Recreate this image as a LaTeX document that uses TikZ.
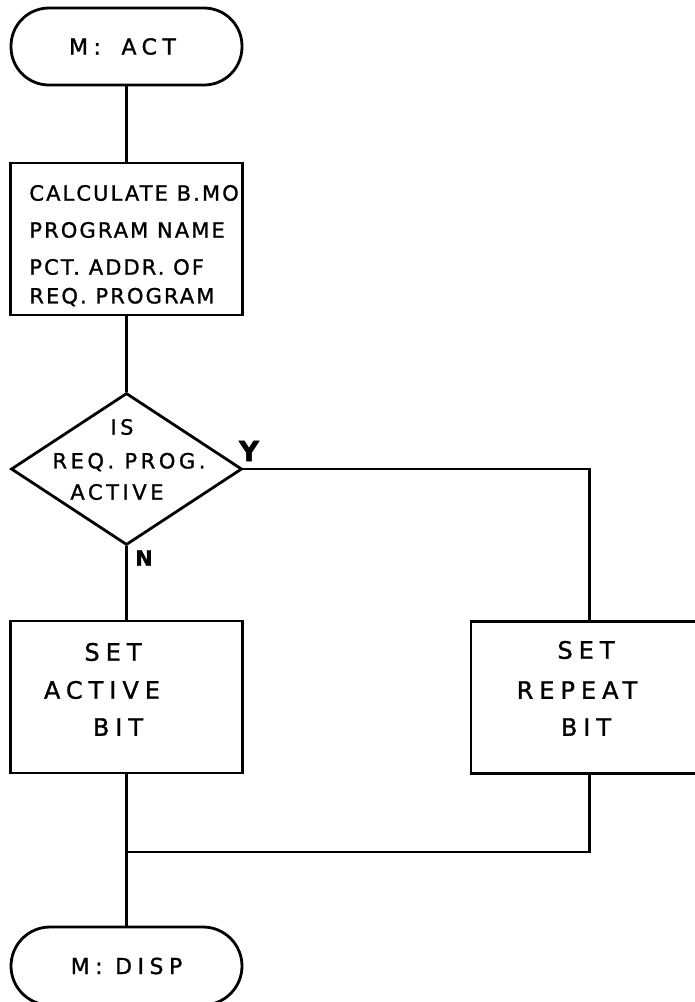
\documentclass[tikz,border=0pt]{standalone}
\usepackage{fontspec}
\setmainfont[LetterSpace=10,FakeBold=1.2]{DejaVu Sans}
\usetikzlibrary{shapes.geometric}
\begin{document}
\begin{tikzpicture}[x=1pt,y=-1pt,line width=2.8pt,
  font=\fontsize{21}{24}\selectfont,
  term/.style={draw,rounded corners=38pt,minimum width=231pt,minimum height=77pt,inner sep=0pt,
    font=\fontsize{22}{26}\selectfont\addfontfeature{LetterSpace=25}},
  procbox/.style={draw,minimum width=232pt,minimum height=152pt,inner sep=0pt},
  decision/.style={draw,diamond,minimum width=231pt,minimum height=152pt,aspect=1.52,inner sep=0pt},
  txt/.style={inner sep=0pt},
  dtxt/.style={inner sep=0pt,font=\fontsize{21}{24}\selectfont\addfontfeature{LetterSpace=17}},
  btxt/.style={inner sep=0pt,font=\fontsize{24}{28}\selectfont\addfontfeature{LetterSpace=25}},
  lbl/.style={inner sep=0pt,font=\fontsize{21}{24}\selectfont\bfseries}]
\useasboundingbox (0,0) rectangle (695,1002);
\clip (0,0) rectangle (695,1002);

% shapes
\node[term] (act) at (126.5,46.5) {\hspace*{-8pt}M:\hspace{8pt} ACT};
\node[procbox] (calc) at (126.5,239) {};
\node[txt,anchor=west] (c1) at (28,193) {CALCULATE B.MO};
\node[txt,anchor=west] (c2) at (28,230) {PROGRAM NAME};
\node[txt,anchor=west] (c3) at (28,267) {PCT. ADDR. OF};
\node[txt,anchor=west] (c4) at (28,297) {REQ. PROGRAM};

\node[decision] (dec) at (126.5,469) {};
\node[dtxt] (d1) at (122,427) {IS};
\node[dtxt] (d2) at (129,462) {REQ. PROG.};
\node[dtxt] (d3) at (117,492) {ACTIVE};
\node[lbl,font=\fontsize{28}{30}\selectfont\bfseries] (ylab) at (249,451) {Y};
\node[lbl] (nlab) at (144,558) {N};

\node[procbox] (setact) at (126.5,697) {};
\node[btxt] (a1) at (113,652) {SET};
\node[btxt] (a2) at (102,690) {ACTIVE};
\node[btxt] (a3) at (118,727) {BIT};

\node[draw,minimum width=237pt,minimum height=152pt,inner sep=0pt] (setrep) at (589.5,697.5) {};
\node[btxt] (r1) at (586,650) {SET};
\node[btxt] (r2) at (577,690) {REPEAT};
\node[btxt] (r3) at (586,727) {BIT};

\node[term,minimum height=78pt,rounded corners=39pt] (disp) at (126.5,966) {M: DISP};

\coordinate (merge) at (126.5,852);

% connectors
\draw (act.south) -- (calc.north);
\draw (calc.south) -- (dec.north);
\draw (dec.south) -- (setact.north);
\draw (dec.east) -| (setrep.north);
\draw (setact.south) -- (disp.north);
\draw (setrep.south) |- (merge);
\end{tikzpicture}
\end{document}
